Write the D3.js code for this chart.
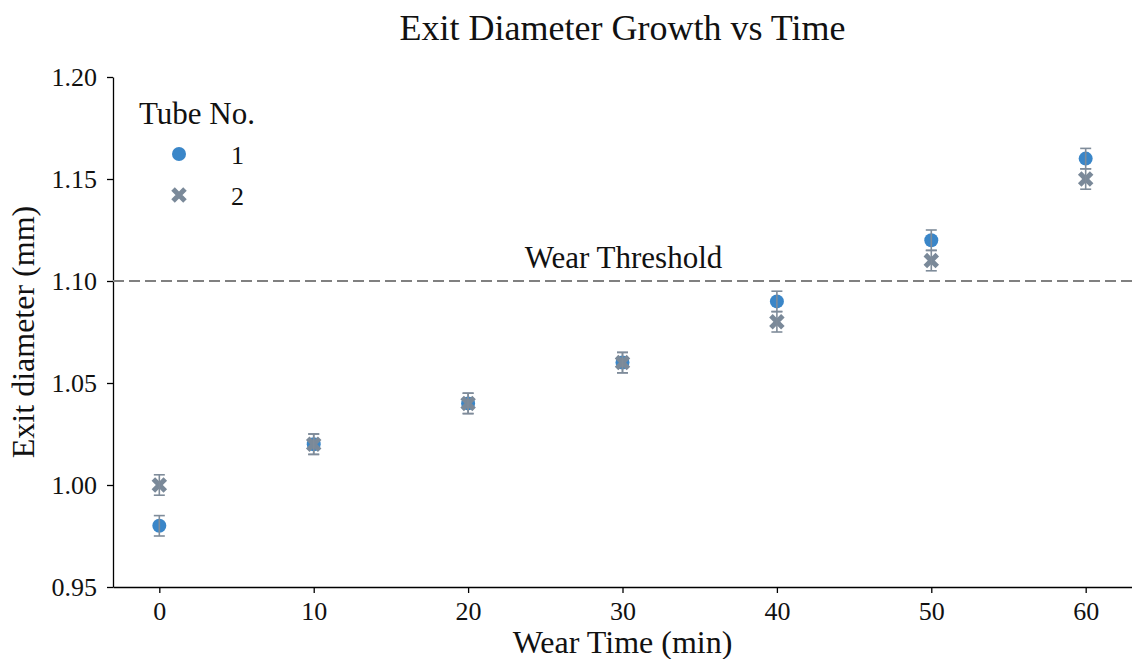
<!DOCTYPE html>
<html>
<head>
<meta charset="utf-8">
<script src="https://cdn.jsdelivr.net/npm/d3@7"></script>
<style>
  body { margin: 0; background: #fff; }
  svg text { font-family: "Liberation Serif", "DejaVu Serif", serif; fill: #111; }
</style>
</head>
<body>
<div id="chart"></div>
<script>
const times = [0, 10, 20, 30, 40, 50, 60];
const tube1 = [0.98, 1.02, 1.04, 1.06, 1.09, 1.12, 1.16];
const tube2 = [1.00, 1.02, 1.04, 1.06, 1.08, 1.11, 1.15];
const errs = [0.005, 0.005, 0.005, 0.005, 0.005, 0.005, 0.005];
const yTicks = [0.95, 1.00, 1.05, 1.10, 1.15, 1.20];
const xTicks = [0, 10, 20, 30, 40, 50, 60];
const threshold = 1.10;

var width = 1132, height = 659;
var margin = { top: 77, right: 0, bottom: 72, left: 113 };

var svg = d3.select('#chart').append('svg')
	.attr('width', width)
	.attr('height', height);

var x = d3.scaleLinear().domain([-3, 63]).range([margin.left, width - margin.right]);
var y = d3.scaleLinear().domain([0.95, 1.20]).range([height - margin.bottom, margin.top]);

var blue = '#3a86c8', slate = '#7a8999', errColor = '#7f8c9a';

// axes
var xAxis = svg.append('g')
	.attr('transform', 'translate(0,' + (height - margin.bottom) + ')')
	.call(d3.axisBottom(x).tickValues(xTicks).tickSize(6).tickPadding(6).tickSizeOuter(0));
var yAxis = svg.append('g')
	.attr('transform', 'translate(' + margin.left + ',0)')
	.call(d3.axisLeft(y).tickValues(yTicks).tickFormat(d3.format('.2f')).tickSize(6).tickPadding(10).tickSizeOuter(0));
[xAxis, yAxis].forEach(function (g) {
	g.selectAll('path, line').attr('stroke', '#000').attr('stroke-width', 1.3);
	g.selectAll('text').style('font-size', '26px').attr('fill', '#111');
});
xAxis.selectAll('text').attr('dy', '0.8em');

// threshold line
svg.append('line')
	.attr('x1', x(-3)).attr('x2', x(63))
	.attr('y1', y(threshold)).attr('y2', y(threshold))
	.attr('stroke', '#808080').attr('stroke-width', 2)
	.attr('stroke-dasharray', '11,5');
svg.append('text')
	.attr('x', x(30) + 1).attr('y', y(threshold) - 13)
	.attr('text-anchor', 'middle')
	.style('font-size', '31px')
	.text('Wear Threshold');

// markers
var crossPath = d3.symbol().type(d3.symbolX).size(95);
function drawSeries(vals, kind) {
	var g = svg.append('g');
	vals.forEach(function (v, i) {
		var cx = x(times[i]), cy = y(v);
		if (kind === 'circle') {
			g.append('circle').attr('cx', cx).attr('cy', cy).attr('r', 7).attr('fill', blue);
		} else {
			g.append('path').attr('d', crossPath).attr('transform', 'translate(' + cx + ',' + cy + ')')
				.attr('stroke', slate).attr('stroke-width', 5).attr('fill', 'none');
		}
		var top = y(v + errs[i]), bot = y(v - errs[i]);
		g.append('line').attr('x1', cx).attr('x2', cx).attr('y1', top).attr('y2', bot)
			.attr('stroke', errColor).attr('stroke-width', 1.6);
		[top, bot].forEach(function (yy) {
			g.append('line').attr('x1', cx - 5.5).attr('x2', cx + 5.5).attr('y1', yy).attr('y2', yy)
				.attr('stroke', errColor).attr('stroke-width', 1.6);
		});
	});
}
drawSeries(tube1, 'circle');
drawSeries(tube2, 'cross');

// title and labels
svg.append('text')
	.attr('x', (x(-3) + x(63)) / 2).attr('y', 40)
	.attr('text-anchor', 'middle')
	.style('font-size', '36px')
	.text('Exit Diameter Growth vs Time');
svg.append('text')
	.attr('x', (x(-3) + x(63)) / 2).attr('y', 653)
	.attr('text-anchor', 'middle')
	.style('font-size', '32px')
	.text('Wear Time (min)');
svg.append('text')
	.attr('transform', 'translate(34,' + (y(0.95) + y(1.20)) / 2 + ') rotate(-90)')
	.attr('text-anchor', 'middle')
	.style('font-size', '32px')
	.text('Exit diameter (mm)');

// legend
var legend = svg.append('g');
legend.append('text').attr('x', 139).attr('y', 124).style('font-size', '31px').text('Tube No.');
legend.append('circle').attr('cx', 179).attr('cy', 154).attr('r', 7).attr('fill', blue);
legend.append('path').attr('d', crossPath).attr('transform', 'translate(179,195)')
	.attr('stroke', slate).attr('stroke-width', 5).attr('fill', 'none');
legend.append('text').attr('x', 231).attr('y', 164).style('font-size', '26px').text('1');
legend.append('text').attr('x', 231).attr('y', 205).style('font-size', '26px').text('2');
</script>
</body>
</html>
